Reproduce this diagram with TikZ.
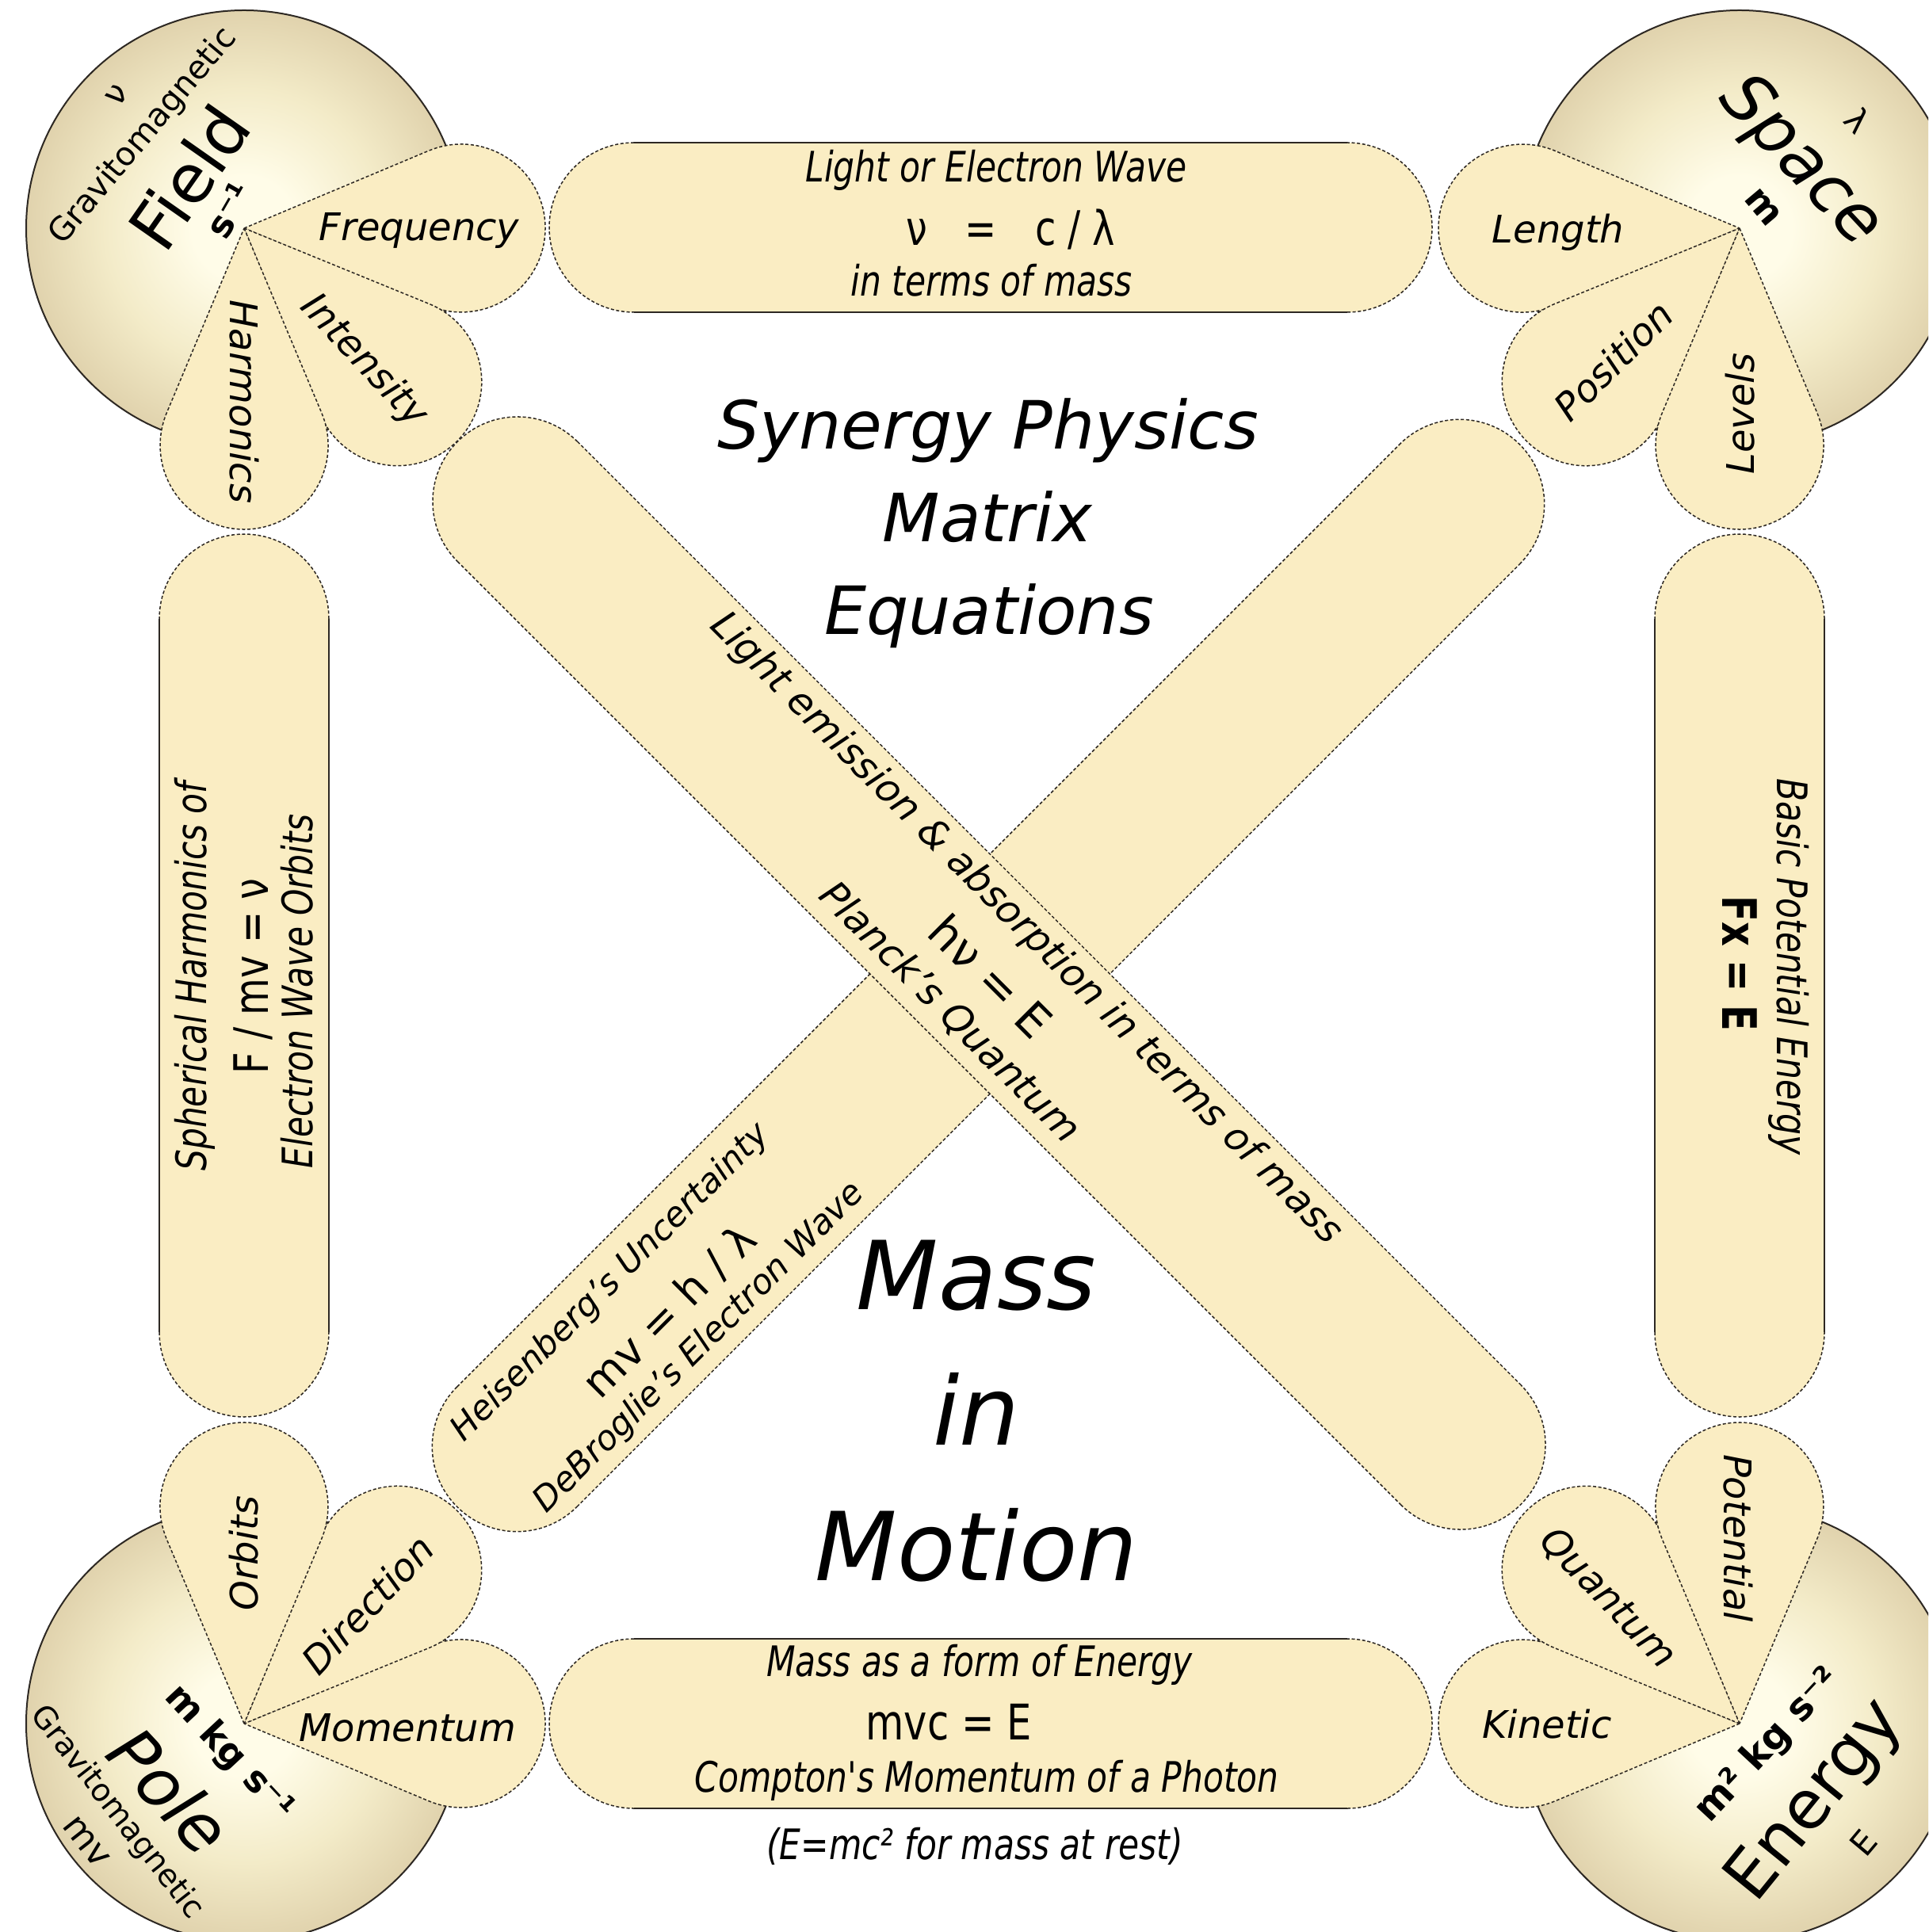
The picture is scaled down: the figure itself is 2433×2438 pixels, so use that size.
\documentclass[tikz,border=0pt]{standalone}
\usepackage{fontspec}
\setmainfont{DejaVu Sans}
\newfontfamily\cond[FakeStretch=0.8]{DejaVu Sans}
\definecolor{pillfill}{RGB}{250,237,195}
\definecolor{edgecol}{RGB}{45,40,35}
\definecolor{sphE}{RGB}{122,108,86}
\definecolor{sphM}{RGB}{172,154,120}
\definecolor{sphL}{RGB}{214,197,158}
\definecolor{sphB}{RGB}{243,235,200}
\definecolor{sphC}{RGB}{255,252,232}
\pgfdeclareradialshading{sphereshade}{\pgfpoint{0bp}{0bp}}{color(0bp)=(sphC); color(6bp)=(sphC); color(16bp)=(sphB); color(30bp)=(sphL); color(42bp)=(sphM); color(50bp)=(sphE)}
\tikzset{
  T/.style 2 args={inner sep=0pt, font={\fontsize{#1}{#1}\selectfont#2}, text height={0.73*#1}, text depth=0pt},
  lab/.style={T={14.4pt}{\itshape}},
  cnd/.style={T={15.9pt}{\cond\itshape}},
  sphere/.style={draw=edgecol, line width=0.6pt, shading=sphereshade},
  dashedge/.style={draw=edgecol, line width=0.45pt, dash pattern=on 1.2pt off 0.8pt},
  solidedge/.style={draw=edgecol, line width=0.7pt},
}
\newcommand{\mypill}[5]{%
  \begin{scope}[shift={(#1,#2)}, rotate=#3]
    \fill[pillfill] (-#4,-107) -- (#4,-107) arc[start angle=-90,end angle=90,radius=107] -- (-#4,107) arc[start angle=90,end angle=270,radius=107] -- cycle;
    \draw[#5] (-#4,-107) -- (#4,-107) (-#4,107) -- (#4,107);
    \draw[dashedge] (#4,-107) arc[start angle=-90,end angle=90,radius=107] (-#4,107) arc[start angle=90,end angle=270,radius=107];
  \end{scope}}
\newcommand{\mypetal}[3]{%
  \begin{scope}[shift={(#1,#2)}, rotate=#3]
    \filldraw[fill=pillfill, dashedge] (0,0) -- (233.0,97.8) arc[start angle=112.76,end angle=-112.76,radius=106] -- cycle;
  \end{scope}}
\begin{document}
\begin{tikzpicture}[x=0.3pt,y=0.3pt]
\useasboundingbox (0,0) rectangle (2433,-2438);
\fill[white] (0,0) rectangle (2433,-2438);
\begin{scope}
\clip (0,0) rectangle (2433,-2438);
% spheres
\draw[sphere] (308,-288) circle[radius=275];
\draw[sphere] (2195,-288) circle[radius=275];
\draw[sphere] (308,-2175) circle[radius=275];
\draw[sphere] (2195,-2175) circle[radius=275];
% side pills
\mypill{1250}{-287}{0}{450}{solidedge}
\mypill{1250}{-2175}{0}{450}{solidedge}
\mypill{308}{-1231}{90}{450}{solidedge}
\mypill{2195}{-1231}{90}{450}{solidedge}
% diagonal pills
\mypill{1247}{-1231}{45}{841}{dashedge}
\mypill{1248}{-1228}{-45}{841.5}{dashedge}
% petals
\mypetal{308}{-288}{0}
\mypetal{308}{-288}{-45}
\mypetal{308}{-288}{-90}
\mypetal{2195}{-288}{180}
\mypetal{2195}{-288}{225}
\mypetal{2195}{-288}{270}
\mypetal{308}{-2175}{0}
\mypetal{308}{-2175}{45}
\mypetal{308}{-2175}{90}
\mypetal{2195}{-2175}{180}
\mypetal{2195}{-2175}{135}
\mypetal{2195}{-2175}{90}
% sphere texts
\node[T={12.6pt}{}, rotate=52] (nuTL) at (145,-118) {ν};
\node[T={12.3pt}{}, rotate=50] (gravTL) at (178,-170) {Gravitomagnetic};
\node[T={25.5pt}{}, rotate=55] (field) at (239,-224) {Field};
\node[T={13.8pt}{\bfseries}, rotate=60] (sTL) at (289,-265) {s⁻¹};
\node[T={25.5pt}{\itshape}, rotate=-47] (space) at (2277,-199) {Space};
\node[T={12.6pt}{}, rotate=-47] (lamTR) at (2344,-152) {λ};
\node[T={13.8pt}{\bfseries}, rotate=-50] (mTR) at (2228,-259) {m};
\node[T={13.8pt}{\bfseries}, rotate=-47] (unitsBL) at (292,-2210) {m kg s⁻¹};
\node[T={25.5pt}{\itshape}, rotate=-47] (pole) at (214,-2260) {Pole};
\node[T={11.8pt}{}, rotate=-52] (gravBL) at (150,-2285) {Gravitomagnetic};
\node[T={13.5pt}{}, rotate=-52] (mvBL) at (112,-2322) {mv};
\node[T={14.4pt}{\bfseries}, rotate=47] (unitsBR) at (2228,-2200) {m² kg s⁻²};
\node[T={25.5pt}{}, rotate=51] (energy) at (2285,-2268) {Energy};
\node[T={12.6pt}{}, rotate=50] (EBR) at (2351,-2325) {E};
\end{scope}
% petal labels
\node[lab] (frequency) at (529,-286) {Frequency};
\node[lab, rotate=-47] (intensity) at (462,-453) {Intensity};
\node[lab, rotate=-90] (harmonics) at (308,-507) {Harmonics};
\node[lab] (length) at (1966,-289) {Length};
\node[lab, rotate=45] (position) at (2036,-455) {Position};
\node[lab, rotate=90] (levels) at (2196,-522) {Levels};
\node[lab, rotate=90] (orbits) at (308,-1960) {Orbits};
\node[lab, rotate=47] (direction) at (464,-2025) {Direction};
\node[lab] (momentum) at (514,-2180) {Momentum};
\node[lab] (kinetic) at (1952,-2176) {Kinetic};
\node[lab, rotate=-46] (quantum) at (2031,-2015) {Quantum};
\node[lab, rotate=-90] (potential) at (2193,-1941) {Potential};
% top pill
\node[cnd] (lightwave) at (1257,-210) {Light or Electron Wave};
\node[T={18pt}{\cond}] (nuc) at (1275,-288) {ν\hspace{0.8em}=\hspace{0.8em}c\hspace{0.25em}/\hspace{0.25em}λ};
\node[cnd] (itom) at (1251,-354) {in terms of mass};
% bottom pill
\node[cnd] (massform) at (1236,-2096) {Mass as a form of Energy};
\node[T={18.6pt}{\cond}] (mvc) at (1197,-2173) {mvc = E};
\node[cnd] (compton) at (1245,-2242) {Compton's Momentum of a Photon};
\node[cnd] (emc) at (1230,-2327) {(E=mc² for mass at rest)};
% left pill
\node[cnd, rotate=90] (spherical) at (241,-1232) {Spherical Harmonics of};
\node[T={18pt}{\cond}, rotate=90] (fmv) at (317,-1232) {F / mv = ν};
\node[cnd, rotate=90] (ewo) at (375,-1251) {Electron Wave Orbits};
% right pill
\node[cnd, rotate=-90] (basic) at (2262,-1220) {Basic Potential Energy};
\node[T={18pt}{\cond\bfseries}, rotate=-90] (fxe) at (2195,-1216) {Fx = E};
% center titles
\node[T={25.2pt}{\itshape}] (synergy) at (1247,-536) {Synergy Physics};
\node[T={25.2pt}{\itshape}] (matrix) at (1246,-653) {Matrix};
\node[T={25.2pt}{\itshape}] (equations) at (1248,-770) {Equations};
\node[T={36pt}{\itshape}] (masstitle) at (1232,-1609) {Mass};
\node[T={36pt}{\itshape}] (intitle) at (1232,-1780) {in};
\node[T={36pt}{\itshape}] (motion) at (1232,-1951) {Motion};
% diagonal texts
\node[T={14.6pt}{\itshape}, rotate=-45] (emission) at (1297,-1169) {Light emission \& absorption in terms of mass};
\node[T={17.4pt}{}, rotate=-45] (hnu) at (1250,-1232) {hν = E};
\node[T={14.6pt}{\itshape}, rotate=-45] (planck) at (1200,-1276) {Planck's Quantum};
\node[T={12.9pt}{\itshape}, rotate=45] (heis) at (768,-1616) {Heisenberg's Uncertainty};
\node[T={16.2pt}{}, rotate=45] (mvh) at (844,-1654) {mv = h / λ};
\node[T={12.9pt}{\itshape}, rotate=45] (debroglie) at (880,-1698) {DeBroglie's Electron Wave};
\end{tikzpicture}
\end{document}
